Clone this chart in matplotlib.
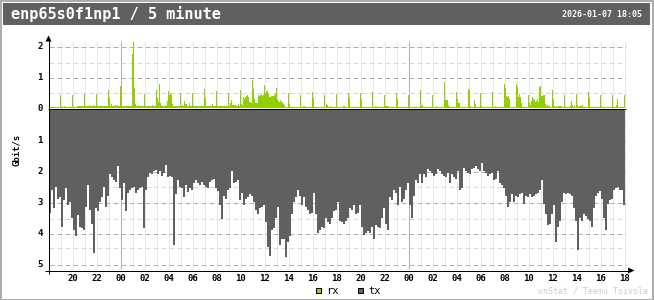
import numpy as np
import matplotlib
matplotlib.use("Agg")
import matplotlib.pyplot as plt
from matplotlib.patches import Rectangle, Polygon

# ---------------- data ----------------
title = "enp65s0f1np1 / 5 minute"
timestamp = "2026-01-07 18:05"
unit_label = "Gbit/s"
legend_labels = ["rx", "tx"]
watermark = "vnStat / Teemu Toivola"

# x tick labels, every 2 hours from 20:00 (day 1) to 18:00 (day 3)
hour_labels = ["20", "22", "00", "02", "04", "06", "08", "10", "12", "14", "16", "18",
               "20", "22", "00", "02", "04", "06", "08", "10", "12", "14", "16", "18"]
day_boundary_hours = [6, 30]          # hours after 18:00 where a new day starts
rx_ticks = [2, 1, 0]
tx_ticks = [1, 2, 3, 4, 5]

# rx in Gbit/s, 5-minute samples, one row per hour (starting 18:05)
rx_hourly = [
    [0.35, 0.03, 0.03, 0.03, 0.03, 0.03, 0.03, 0.03, 0.03, 0.03, 0.03, 0.41],
    [0.03, 0.06, 0.03, 0.06, 0.03, 0.03, 0.03, 0.03, 0.03, 0.03, 0.03, 0.41],
    [0.03, 0.03, 0.03, 0.03, 0.05, 0.05, 0.05, 0.05, 0.06, 0.05, 0.05, 0.44],
    [0.05, 0.05, 0.05, 0.05, 0.09, 0.05, 0.05, 0.05, 0.09, 0.05, 0.05, 0.44],
    [0.05, 0.05, 0.08, 0.05, 0.05, 0.05, 0.05, 0.05, 0.05, 0.05, 0.05, 0.57],
    [0.32, 0.05, 0.14, 0.05, 0.05, 0.05, 0.09, 0.05, 0.09, 0.05, 0.05, 0.70],
    [0.52, 0.05, 0.05, 0.05, 0.05, 0.05, 0.05, 0.05, 0.05, 0.05, 0.05, 1.73],
    [2.13, 0.65, 0.12, 0.05, 0.05, 0.09, 0.05, 0.05, 0.05, 0.05, 0.05, 0.44],
    [0.05, 0.05, 0.05, 0.05, 0.05, 0.05, 0.05, 0.09, 0.05, 0.07, 0.05, 0.57],
    [0.32, 0.19, 0.76, 0.15, 0.09, 0.05, 0.05, 0.05, 0.10, 0.05, 0.22, 0.54],
    [0.43, 0.47, 0.41, 0.12, 0.08, 0.05, 0.05, 0.05, 0.05, 0.05, 0.05, 0.47],
    [0.05, 0.09, 0.05, 0.22, 0.12, 0.14, 0.08, 0.05, 0.15, 0.06, 0.05, 0.47],
    [0.05, 0.05, 0.07, 0.05, 0.05, 0.05, 0.07, 0.05, 0.05, 0.05, 0.05, 0.60],
    [0.33, 0.05, 0.05, 0.05, 0.05, 0.05, 0.05, 0.14, 0.05, 0.05, 0.05, 0.54],
    [0.05, 0.05, 0.05, 0.05, 0.05, 0.05, 0.05, 0.05, 0.05, 0.05, 0.05, 0.48],
    [0.05, 0.15, 0.25, 0.09, 0.09, 0.09, 0.09, 0.05, 0.05, 0.14, 0.05, 0.58],
    [0.14, 0.10, 0.35, 0.30, 0.35, 0.38, 0.41, 0.35, 0.20, 0.20, 0.15, 0.90],
    [0.60, 0.30, 0.17, 0.17, 0.15, 0.43, 0.40, 0.41, 0.41, 0.40, 0.42, 0.74],
    [0.50, 0.54, 0.54, 0.45, 0.37, 0.37, 0.38, 0.38, 0.40, 0.43, 0.50, 0.65],
    [0.28, 0.22, 0.20, 0.25, 0.20, 0.18, 0.14, 0.10, 0.03, 0.03, 0.03, 0.48],
    [0.14, 0.03, 0.03, 0.03, 0.03, 0.03, 0.03, 0.03, 0.03, 0.03, 0.03, 0.41],
    [0.03, 0.03, 0.05, 0.05, 0.03, 0.03, 0.03, 0.03, 0.03, 0.03, 0.03, 0.51],
    [0.33, 0.03, 0.03, 0.03, 0.03, 0.03, 0.03, 0.03, 0.03, 0.03, 0.03, 0.41],
    [0.03, 0.12, 0.09, 0.03, 0.03, 0.06, 0.03, 0.03, 0.03, 0.03, 0.03, 0.45],
    [0.03, 0.03, 0.03, 0.03, 0.03, 0.03, 0.05, 0.05, 0.03, 0.03, 0.03, 0.50],
    [0.33, 0.03, 0.03, 0.03, 0.03, 0.03, 0.03, 0.03, 0.03, 0.03, 0.03, 0.50],
    [0.30, 0.03, 0.03, 0.03, 0.03, 0.03, 0.03, 0.03, 0.03, 0.03, 0.03, 0.53],
    [0.03, 0.03, 0.05, 0.03, 0.05, 0.03, 0.03, 0.03, 0.03, 0.03, 0.03, 0.41],
    [0.05, 0.05, 0.05, 0.05, 0.03, 0.03, 0.03, 0.03, 0.03, 0.03, 0.03, 0.50],
    [0.28, 0.03, 0.03, 0.03, 0.03, 0.03, 0.03, 0.03, 0.03, 0.03, 0.03, 0.41],
    [0.03, 0.03, 0.03, 0.03, 0.03, 0.03, 0.03, 0.03, 0.03, 0.03, 0.03, 0.58],
    [0.08, 0.09, 0.03, 0.03, 0.03, 0.03, 0.03, 0.03, 0.03, 0.03, 0.03, 0.41],
    [0.03, 0.03, 0.03, 0.05, 0.03, 0.03, 0.03, 0.03, 0.03, 0.03, 0.03, 0.84],
    [0.25, 0.25, 0.25, 0.09, 0.03, 0.03, 0.03, 0.03, 0.03, 0.03, 0.03, 0.51],
    [0.28, 0.15, 0.15, 0.03, 0.03, 0.03, 0.03, 0.03, 0.03, 0.03, 0.03, 0.61],
    [0.58, 0.05, 0.03, 0.03, 0.03, 0.25, 0.14, 0.03, 0.03, 0.03, 0.03, 0.48],
    [0.05, 0.03, 0.03, 0.03, 0.03, 0.03, 0.03, 0.03, 0.03, 0.03, 0.03, 0.51],
    [0.03, 0.03, 0.05, 0.03, 0.03, 0.03, 0.03, 0.03, 0.03, 0.03, 0.03, 0.77],
    [0.64, 0.38, 0.35, 0.38, 0.28, 0.03, 0.03, 0.03, 0.03, 0.03, 0.03, 0.77],
    [0.67, 0.35, 0.45, 0.35, 0.15, 0.03, 0.03, 0.03, 0.03, 0.03, 0.03, 0.41],
    [0.15, 0.09, 0.22, 0.35, 0.28, 0.25, 0.18, 0.22, 0.28, 0.18, 0.67, 0.70],
    [0.38, 0.38, 0.41, 0.41, 0.12, 0.05, 0.09, 0.05, 0.05, 0.03, 0.03, 0.58],
    [0.28, 0.05, 0.03, 0.05, 0.03, 0.05, 0.05, 0.05, 0.05, 0.03, 0.03, 0.41],
    [0.03, 0.03, 0.03, 0.03, 0.03, 0.05, 0.22, 0.09, 0.03, 0.09, 0.03, 0.45],
    [0.09, 0.03, 0.05, 0.08, 0.08, 0.09, 0.03, 0.03, 0.03, 0.03, 0.03, 0.51],
    [0.31, 0.03, 0.03, 0.03, 0.03, 0.03, 0.03, 0.03, 0.03, 0.03, 0.03, 0.41],
    [0.05, 0.03, 0.03, 0.03, 0.03, 0.03, 0.03, 0.03, 0.03, 0.03, 0.03, 0.41],
    [0.03, 0.03, 0.03, 0.09, 0.28, 0.03, 0.03, 0.03, 0.03, 0.03, 0.03, 0.41],
]

# tx in Gbit/s, one value per 10 minutes (starting 18:05)
tx_10min = [
    3.35, 2.60, 3.20, 2.50, 2.90, 2.85, 3.80, 2.95, 2.56, 3.10,
    3.00, 3.50, 3.90, 4.10, 3.42, 3.80, 3.85, 3.90, 3.15, 2.45,
    3.25, 3.70, 4.63, 3.20, 3.30, 3.00, 2.85, 2.50, 3.15, 2.80,
    2.10, 2.20, 2.30, 2.35, 1.85, 2.55, 2.95, 2.40, 3.30, 2.70,
    2.60, 2.55, 2.50, 2.70, 2.60, 2.55, 2.50, 3.85, 2.60, 2.20,
    2.05, 2.10, 2.00, 1.97, 2.10, 2.00, 2.15, 2.05, 1.80, 2.20,
    2.15, 2.20, 4.40, 2.75, 2.30, 2.50, 2.55, 2.85, 2.45, 2.67,
    2.55, 2.60, 2.40, 2.30, 2.40, 2.45, 2.35, 2.45, 2.50, 2.55,
    2.35, 2.30, 2.25, 2.55, 2.65, 3.10, 3.55, 2.80, 2.90, 2.60,
    2.55, 2.00, 2.40, 2.35, 2.30, 2.95, 2.70, 3.10, 2.90, 2.85,
    2.75, 2.80, 3.00, 3.25, 3.40, 3.20, 3.15, 3.10, 3.65, 4.45,
    4.73, 3.90, 3.85, 3.50, 3.15, 4.40, 4.20, 4.20, 4.76, 4.30,
    4.10, 3.40, 3.00, 2.85, 2.60, 2.80, 3.10, 2.85, 3.15, 3.25,
    3.40, 3.35, 2.70, 3.40, 4.00, 3.90, 3.80, 3.85, 3.50, 3.65,
    3.70, 3.50, 3.30, 3.25, 3.00, 3.60, 3.65, 3.70, 3.60, 3.50,
    3.20, 3.25, 3.10, 3.40, 3.35, 3.10, 3.80, 4.05, 4.00, 3.95,
    4.00, 3.80, 4.20, 3.75, 3.80, 3.85, 3.50, 3.20, 3.70, 3.90,
    2.85, 2.95, 2.60, 2.70, 3.10, 2.50, 3.00, 2.90, 2.60, 2.40,
    3.10, 3.50, 2.80, 2.30, 2.40, 2.10, 2.40, 2.10, 2.20, 1.95,
    2.00, 2.05, 2.15, 2.10, 1.95, 2.00, 2.10, 2.15, 2.20, 2.05,
    2.40, 2.10, 2.20, 2.25, 2.00, 2.60, 2.55, 1.90, 2.00, 2.05,
    2.10, 1.95, 1.90, 1.85, 1.95, 2.00, 1.75, 2.00, 2.05, 2.15,
    2.10, 2.05, 2.30, 2.25, 2.00, 2.40, 2.45, 2.55, 2.80, 3.15,
    3.00, 2.75, 3.00, 2.80, 2.85, 2.75, 2.70, 3.05, 2.80, 2.85,
    2.75, 2.85, 2.80, 2.75, 2.70, 2.60, 2.30, 3.05, 3.40, 3.75,
    3.70, 3.40, 3.10, 4.30, 3.80, 3.60, 3.00, 2.70, 2.75, 2.70,
    2.75, 2.80, 3.20, 3.60, 4.55, 3.50, 3.60, 3.40, 3.45, 3.55,
    3.60, 3.80, 3.20, 2.80, 2.70, 2.65, 2.90, 3.50, 3.90, 3.05,
    2.95, 2.90, 2.60, 2.55, 2.50, 2.60, 2.60, 3.10,
]

# ---------------- style ----------------
C_RX = "#92CF00"
C_TX = "#606060"
C_HEADER = "#606060"
C_EDGE = "#AEAEAE"
C_LINE = "#B0B0B0"
C_LINEL = "#D6D6D6"
C_HOUR = "#E8E8E8"
MONO = "DejaVu Sans Mono"

W, H = 654, 300
PXU = 31.0      # pixels per Gbit/s
Y0 = 108.0      # pixel row of zero line
X0 = 48.0       # pixel column of y axis


def py(y_img):
    return (Y0 - y_img) / PXU


def px(x_img):
    return x_img - X0


fig = plt.figure(figsize=(W / 100, H / 100), dpi=100)
fig.patch.set_facecolor("white")

# decoration layer in pixel coords
ax0 = fig.add_axes([0, 0, 1, 1])
ax0.set_xlim(0, W)
ax0.set_ylim(H, 0)
ax0.axis("off")
ax0.add_patch(Rectangle((0, 0), W, H, facecolor=C_EDGE, edgecolor="none", zorder=0))
ax0.add_patch(Rectangle((2, 2), W - 4, H - 3.5, facecolor="white", edgecolor="none", zorder=0.5))
ax0.add_patch(Rectangle((3, 3), 647, 22, facecolor=C_HEADER, edgecolor="none", zorder=1))
ax0.text(11, 14.5, title, color="white", fontsize=11, fontweight="bold",
         family=MONO, ha="left", va="center", zorder=2)
ax0.text(642, 14.5, timestamp, color="white", fontsize=6, fontweight="bold",
         family=MONO, ha="right", va="center", zorder=2)
ax0.text(16, 150, unit_label, rotation=90, fontsize=6.5, fontweight="bold",
         family=MONO, ha="center", va="center", color="black")
# legend
for lx, col, lab in [(315.5, C_RX, legend_labels[0]), (357.5, C_TX, legend_labels[1])]:
    ax0.add_patch(Rectangle((lx, 287.5), 5, 5, facecolor=col, edgecolor="black",
                            linewidth=0.72, zorder=3))
    ax0.text(lx + 10.5, 290.5, lab, fontsize=7.5, family=MONO, ha="left",
             va="center", color="black")
ax0.text(648, 290.5, watermark, fontsize=6, family=MONO, ha="right", va="center",
         color="#CCCCCC")

# main plot in pixel-aligned data coords
ax = fig.add_axes([40 / W, (H - 285) / H, 600 / W, 255 / H])
ax.set_xlim(px(40), px(640))
ax.set_ylim(py(285), py(30))
ax.axis("off")
ax.patch.set_alpha(0)

rx = np.concatenate([np.asarray(r, dtype=float) for r in rx_hourly])
tx = np.asarray(tx_10min, dtype=float)
n_rx = len(rx)
n_hours = len(rx_hourly)

# hour grid lines
for k in range(1, n_hours + 1):
    col = C_LINE if k in day_boundary_hours else C_HOUR
    ax.plot([12 * k + 0.5] * 2, [py(268.5), py(41)], color=col, lw=0.72,
            solid_capstyle="butt", zorder=1)

# horizontal dashed lines
x_start, x_end = 1, n_rx + 2
for v in [0.5, 1.0, 1.5, 2.0]:
    row = round(Y0 - PXU * v) + 0.5
    ax.plot([x_start, x_end], [py(row)] * 2, color=C_LINE if v % 1 == 0 else C_LINEL,
            lw=0.72, linestyle=(0, (5, 3)), zorder=1)
for t in [0.5, 1.0, 1.5, 2.0, 2.5, 3.0, 3.5, 4.0, 4.5, 5.0]:
    row = round(Y0 + 1 + PXU * t) + 0.5
    ax.plot([x_start, x_end], [py(row)] * 2, color=C_LINE if t % 1 == 0 else C_LINEL,
            lw=0.72, linestyle=(0, (5, 3)), zorder=1)

# bars
ax.bar(np.arange(n_rx) + 1, rx, width=1, align="edge", bottom=0,
       color=C_RX, linewidth=0, zorder=2)
ax.bar(np.arange(len(tx)) * 2 + 1, -tx, width=2, align="edge", bottom=-1 / PXU,
       color=C_TX, linewidth=0, zorder=2)

# zero line
ax.plot([0, n_rx + 2], [py(108.5)] * 2, color="black", lw=0.72, zorder=3,
        solid_capstyle="butt")

# axes lines + arrows
ax.plot([0.5, 0.5], [py(274), py(39)], color="black", lw=0.72, zorder=4,
        solid_capstyle="butt", clip_on=False)
ax.add_patch(Polygon([(0.5, py(35.5)), (-2.5, py(41.5)), (3.5, py(41.5))],
                     closed=True, facecolor="black", edgecolor="none", zorder=4))
ax.plot([px(45), px(629)], [py(270.5)] * 2, color="black", lw=0.72, zorder=4,
        solid_capstyle="butt", clip_on=False)
ax.add_patch(Polygon([(px(634.5), py(270.5)), (px(628), py(267.5)), (px(628), py(273.5))],
                     closed=True, facecolor="black", edgecolor="none", zorder=4))

# tick labels
for v in rx_ticks:
    ax.text(px(42.8), py(Y0 - PXU * v + 0.3), str(v), fontsize=6.5, fontweight="bold",
            family=MONO, ha="right", va="center", color="black")
for t in tx_ticks:
    ax.text(px(42.8), py(Y0 + 1 + PXU * t + 0.3), str(t), fontsize=6.5, fontweight="bold",
            family=MONO, ha="right", va="center", color="black")
for idx, lab in enumerate(hour_labels):
    k = 2 * (idx + 1)
    ax.text(12 * k + 0.5, py(278.5), lab, fontsize=6.5, fontweight="bold",
            family=MONO, ha="center", va="center", color="black")

fig.savefig("out.png", dpi=100, facecolor=fig.get_facecolor())
